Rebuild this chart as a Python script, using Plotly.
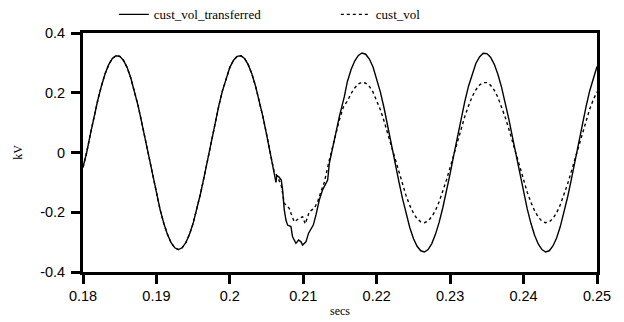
import plotly.graph_objects as go

# ---- data (time in s, voltage in kV) ----
time_pre = [0.1800, 0.1805, 0.1810, 0.1815, 0.1820, 0.1825, 0.1830, 0.1835, 0.1840, 0.1845,
            0.1850, 0.1855, 0.1860, 0.1865, 0.1870, 0.1875, 0.1880, 0.1885, 0.1890, 0.1895,
            0.1900, 0.1905, 0.1910, 0.1915, 0.1920, 0.1925, 0.1930, 0.1935, 0.1940, 0.1945,
            0.1950, 0.1955, 0.1960, 0.1965, 0.1970, 0.1975, 0.1980, 0.1985, 0.1990, 0.1995,
            0.2000, 0.2005, 0.2010, 0.2015, 0.2020, 0.2025, 0.2030, 0.2035, 0.2040, 0.2045,
            0.2050, 0.2055, 0.2060]
volt_pre = [-0.050, 0.000, 0.061, 0.120, 0.174, 0.222, 0.263, 0.294, 0.315, 0.324,
            0.322, 0.309, 0.285, 0.250, 0.207, 0.157, 0.100, 0.041, -0.020, -0.081,
            -0.138, -0.191, -0.237, -0.274, -0.302, -0.319, -0.325, -0.319, -0.302, -0.274,
            -0.237, -0.191, -0.138, -0.081, -0.020, 0.041, 0.100, 0.157, 0.207, 0.250,
            0.285, 0.309, 0.322, 0.324, 0.315, 0.294, 0.263, 0.222, 0.174, 0.120,
            0.061, 0.000, -0.061]

time_fault_transferred = [0.20620, 0.20628, 0.20640, 0.20670, 0.20700, 0.20718, 0.20741, 0.20764,
                          0.20786, 0.20832, 0.20854, 0.20900, 0.20936, 0.20969, 0.20991, 0.21036,
                          0.21072, 0.21105, 0.21136, 0.21173, 0.21218, 0.21263, 0.21332, 0.21355,
                          0.21400, 0.21446, 0.21491, 0.21559]
volt_fault_transferred = [-0.085, -0.100, -0.077, -0.082, -0.092, -0.125, -0.192, -0.226,
                          -0.243, -0.248, -0.282, -0.304, -0.293, -0.299, -0.310, -0.299,
                          -0.270, -0.254, -0.243, -0.209, -0.159, -0.125, -0.092, -0.036,
                          0.019, 0.075, 0.120, 0.187]

time_fault_cust = [0.20650, 0.20700, 0.20741, 0.20763, 0.20809, 0.20832, 0.20877, 0.20946,
                   0.20991, 0.21027, 0.21082, 0.21150, 0.21195, 0.21241, 0.21286, 0.21355,
                   0.21423, 0.21491, 0.21550]
volt_fault_cust = [-0.082, -0.110, -0.170, -0.176, -0.187, -0.203, -0.232, -0.220,
                   -0.215, -0.239, -0.198, -0.187, -0.165, -0.131, -0.100, -0.025,
                   0.042, 0.109, 0.155]

time_post = [0.2160, 0.2165, 0.2170, 0.2175, 0.2180, 0.2185, 0.2190, 0.2195, 0.2200, 0.2205,
             0.2210, 0.2215, 0.2220, 0.2225, 0.2230, 0.2235, 0.2240, 0.2245, 0.2250, 0.2255,
             0.2260, 0.2265, 0.2270, 0.2275, 0.2280, 0.2285, 0.2290, 0.2295, 0.2300, 0.2305,
             0.2310, 0.2315, 0.2320, 0.2325, 0.2330, 0.2335, 0.2340, 0.2345, 0.2350, 0.2355,
             0.2360, 0.2365, 0.2370, 0.2375, 0.2380, 0.2385, 0.2390, 0.2395, 0.2400, 0.2405,
             0.2410, 0.2415, 0.2420, 0.2425, 0.2430, 0.2435, 0.2440, 0.2445, 0.2450, 0.2455,
             0.2460, 0.2465, 0.2470, 0.2475, 0.2480, 0.2485, 0.2490, 0.2495, 0.2500]
volt_post_transferred = [0.237, 0.277, 0.306, 0.325, 0.333, 0.329, 0.313, 0.286, 0.248, 0.202,
                         0.149, 0.091, 0.029, -0.033, -0.095, -0.153, -0.206, -0.251, -0.288, -0.314,
                         -0.329, -0.333, -0.325, -0.305, -0.274, -0.234, -0.185, -0.130, -0.071, -0.008,
                         0.054, 0.115, 0.171, 0.222, 0.264, 0.298, 0.320, 0.332, 0.331, 0.319,
                         0.296, 0.262, 0.219, 0.168, 0.111, 0.050, -0.013, -0.075, -0.134, -0.189,
                         -0.237, -0.277, -0.306, -0.325, -0.333, -0.329, -0.313, -0.286, -0.248, -0.202,
                         -0.149, -0.091, -0.029, 0.033, 0.095, 0.153, 0.206, 0.251, 0.288]
volt_post_cust = [0.172, 0.197, 0.216, 0.230, 0.235, 0.232, 0.221, 0.202, 0.175, 0.143,
                  0.105, 0.064, 0.021, -0.024, -0.067, -0.108, -0.145, -0.177, -0.203, -0.222,
                  -0.232, -0.235, -0.229, -0.215, -0.194, -0.165, -0.131, -0.092, -0.050, -0.006,
                  0.038, 0.081, 0.121, 0.156, 0.187, 0.210, 0.226, 0.234, 0.234, 0.225,
                  0.209, 0.185, 0.154, 0.118, 0.078, 0.035, -0.009, -0.053, -0.095, -0.133,
                  -0.167, -0.195, -0.216, -0.230, -0.235, -0.232, -0.221, -0.202, -0.175, -0.143,
                  -0.105, -0.064, -0.021, 0.024, 0.067, 0.108, 0.145, 0.177, 0.203]

x_tick_vals = [0.18, 0.19, 0.20, 0.21, 0.22, 0.23, 0.24, 0.25]
x_tick_text = ["0.18", "0.19", "0.2", "0.21", "0.22", "0.23", "0.24", "0.25"]
y_tick_vals = [0.4, 0.2, 0, -0.2, -0.4]
y_tick_text = ["0.4", "0.2", "0", "-0.2", "-0.4"]

series_names = ["cust_vol_transferred", "cust_vol"]

# ---- figure ----
t_transferred = time_pre + time_fault_transferred + time_post
v_transferred = volt_pre + volt_fault_transferred + volt_post_transferred
t_cust = time_pre + time_fault_cust + time_post
v_cust = volt_pre + volt_fault_cust + volt_post_cust

fig = go.Figure()
fig.add_trace(go.Scatter(x=t_transferred, y=v_transferred, mode="lines", name=series_names[0],
                         line=dict(color="black", width=1.4)))
fig.add_trace(go.Scatter(x=t_cust, y=v_cust, mode="lines", name=series_names[1],
                         line=dict(color="black", width=1.4, dash="3px,3px")))

serif = "Liberation Serif, Times New Roman, serif"
axis_common = dict(showline=True, linecolor="black", linewidth=2.8, mirror=True,
                   ticks="outside", ticklen=9, tickwidth=2.5, tickcolor="black",
                   showgrid=False, zeroline=False,
                   tickfont=dict(family="Liberation Sans, Arial, sans-serif", size=14.5, color="black"))

# the page body has an 8px default margin, so the figure is sized/positioned to compensate
fig.update_layout(
    width=616, height=314,
    margin=dict(l=75, r=27, t=25, b=50, autoexpand=False),
    paper_bgcolor="white", plot_bgcolor="white",
    showlegend=True,
    legend=dict(orientation="h", x=0.06, xanchor="left", y=1.015, yanchor="bottom",
                font=dict(family=serif, size=13, color="black"),
                entrywidth=177, entrywidthmode="pixels", bgcolor="rgba(0,0,0,0)",
                borderwidth=0, tracegroupgap=0),
    xaxis=dict(range=[0.18, 0.25], tickvals=x_tick_vals, ticktext=x_tick_text,
               title=dict(text="secs", standoff=4, font=dict(family=serif, size=12, color="black")),
               **axis_common),
    yaxis=dict(range=[-0.4, 0.4], tickvals=y_tick_vals, ticktext=y_tick_text,
               ticklabelstandoff=3,
               title=dict(text="kV", standoff=16, font=dict(family=serif, size=12, color="black")),
               **axis_common),
)

fig.write_html("out.html")
